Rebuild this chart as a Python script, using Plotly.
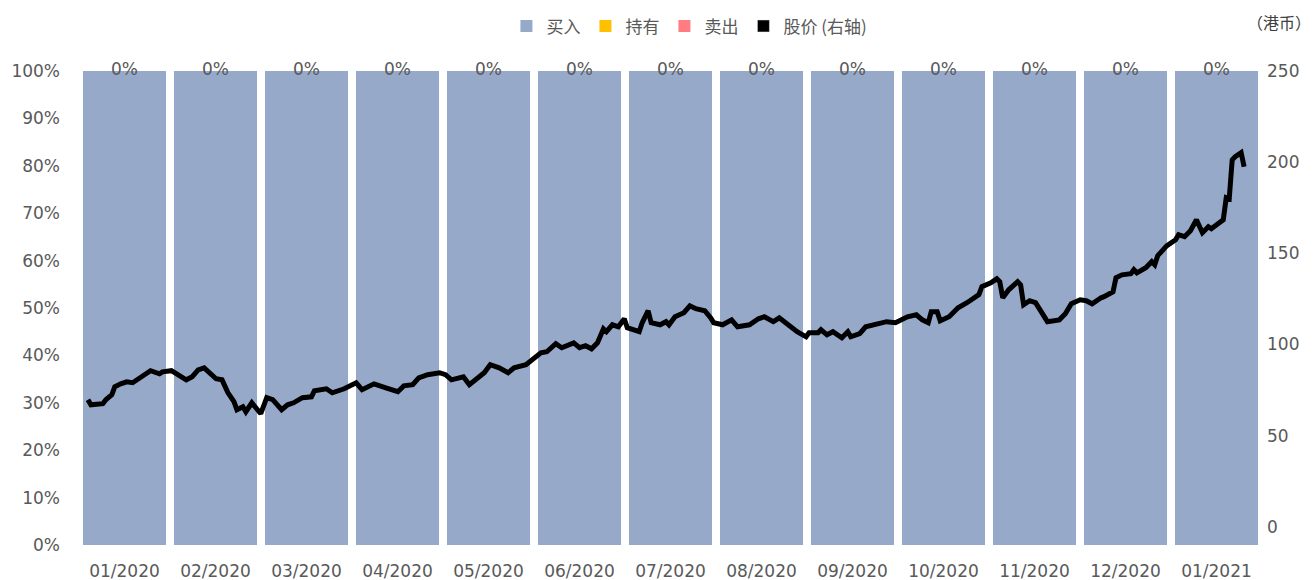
import plotly.graph_objects as go

# ---------------- data ----------------
months = ["01/2020", "02/2020", "03/2020", "04/2020", "05/2020", "06/2020", "07/2020",
          "08/2020", "09/2020", "10/2020", "11/2020", "12/2020", "01/2021"]
buy_pct = [1.0] * 13
hold_pct = [0.0] * 13
sell_pct = [0.0] * 13
hold_labels = ["0%"] * 13

price_dates = [
    "2020-01-04", "2020-01-05", "2020-01-09", "2020-01-10", "2020-01-12", "2020-01-13", "2020-01-15",
    "2020-01-17", "2020-01-19", "2020-01-22", "2020-01-25", "2020-01-28", "2020-01-29", "2020-02-01",
    "2020-02-03", "2020-02-06", "2020-02-08", "2020-02-10", "2020-02-12", "2020-02-14", "2020-02-16",
    "2020-02-18", "2020-02-20", "2020-02-22", "2020-02-23", "2020-02-25", "2020-02-26", "2020-02-28",
    "2020-03-02", "2020-03-04", "2020-03-06", "2020-03-09", "2020-03-11", "2020-03-13", "2020-03-16",
    "2020-03-19", "2020-03-20", "2020-03-24", "2020-03-26", "2020-03-30", "2020-04-03", "2020-04-05",
    "2020-04-09", "2020-04-13", "2020-04-17", "2020-04-19", "2020-04-22", "2020-04-24", "2020-04-27",
    "2020-05-01", "2020-05-03", "2020-05-05", "2020-05-08", "2020-05-09", "2020-05-11", "2020-05-14",
    "2020-05-16", "2020-05-18", "2020-05-21", "2020-05-24", "2020-05-26", "2020-05-30", "2020-06-02",
    "2020-06-04", "2020-06-06", "2020-06-09", "2020-06-11", "2020-06-15", "2020-06-17", "2020-06-19",
    "2020-06-21", "2020-06-23", "2020-06-25", "2020-06-26", "2020-06-28", "2020-06-30", "2020-07-02",
    "2020-07-03", "2020-07-07", "2020-07-08", "2020-07-10", "2020-07-11", "2020-07-14", "2020-07-16",
    "2020-07-17", "2020-07-19", "2020-07-22", "2020-07-24", "2020-07-26", "2020-07-29", "2020-07-31",
    "2020-08-01", "2020-08-04", "2020-08-07", "2020-08-09", "2020-08-13", "2020-08-16", "2020-08-18",
    "2020-08-21", "2020-08-23", "2020-08-26", "2020-08-28", "2020-08-29", "2020-09-01", "2020-09-02",
    "2020-09-05", "2020-09-06", "2020-09-08", "2020-09-10", "2020-09-13", "2020-09-15", "2020-09-16",
    "2020-09-19", "2020-09-21", "2020-09-25", "2020-09-28", "2020-10-01", "2020-10-05", "2020-10-08",
    "2020-10-10", "2020-10-12", "2020-10-13", "2020-10-15", "2020-10-16", "2020-10-19", "2020-10-22",
    "2020-10-25", "2020-10-29", "2020-10-30", "2020-11-02", "2020-11-04", "2020-11-05", "2020-11-06",
    "2020-11-08", "2020-11-11", "2020-11-12", "2020-11-13", "2020-11-15", "2020-11-17", "2020-11-19",
    "2020-11-21", "2020-11-25", "2020-11-27", "2020-11-29", "2020-12-02", "2020-12-04", "2020-12-06",
    "2020-12-09", "2020-12-10", "2020-12-13", "2020-12-14", "2020-12-16", "2020-12-19", "2020-12-20",
    "2020-12-21", "2020-12-24", "2020-12-26", "2020-12-27", "2020-12-28", "2020-12-31", "2021-01-03",
    "2021-01-04", "2021-01-06", "2021-01-08", "2021-01-10", "2021-01-12", "2021-01-14", "2021-01-15",
    "2021-01-19", "2021-01-20", "2021-01-21", "2021-01-22", "2021-01-23", "2021-01-25", "2021-01-26",
]
price_values = [
    69.7, 66.9, 67.5, 69.7, 72.4, 76.8, 78.4,
    79.5, 79.0, 82.3, 85.6, 83.9, 85.0, 85.6,
    83.9, 80.6, 82.3, 86.1, 87.2, 84.5, 81.2,
    80.6, 73.5, 68.6, 64.2, 65.8, 63.1, 68.0,
    62.0, 70.8, 69.7, 64.2, 66.9, 68.0, 70.8,
    71.3, 74.6, 75.7, 73.5, 75.7, 79.0, 75.2,
    78.4, 76.2, 74.1, 77.3, 77.9, 81.7, 83.4,
    84.5, 83.4, 80.6, 81.7, 82.3, 77.9, 82.3,
    84.5, 88.9, 87.2, 84.5, 87.2, 88.9, 92.7,
    95.4, 96.0, 100.4, 98.2, 100.9, 98.2, 99.3,
    97.6, 100.9, 108.6, 107.0, 110.8, 109.7, 114.1,
    109.2, 107.0, 111.9, 118.5, 111.9, 110.8, 112.5,
    110.8, 115.2, 117.4, 121.2, 119.6, 118.5, 114.6,
    111.9, 110.8, 113.5, 109.7, 110.8, 114.1, 115.2,
    112.5, 114.6, 110.8, 108.1, 107.0, 104.2, 106.4,
    106.4, 108.1, 105.3, 107.0, 103.7, 107.0, 104.2,
    105.9, 109.7, 111.4, 112.5, 111.9, 115.2, 116.3,
    113.5, 111.9, 117.9, 117.9, 113.0, 115.2, 120.1,
    122.9, 127.3, 131.7, 133.8, 136.0, 134.4, 125.6,
    130.0, 134.4, 132.7, 121.8, 124.0, 122.9, 117.9,
    112.5, 113.5, 116.8, 122.3, 124.5, 124.0, 122.3,
    125.6, 126.2, 128.9, 136.6, 138.2, 138.8, 141.0,
    139.3, 142.1, 145.4, 143.7, 148.7, 154.1, 157.4,
    160.2, 159.1, 162.4, 168.4, 161.3, 164.6, 163.5,
    168.4, 180.5, 179.9, 201.3, 203.0, 205.2, 197.5,
]

# ---------------- styles ----------------
BUY_C = "#97A9C9"
HOLD_C = "#FFC000"
SELL_C = "#FF7C80"
TXT_C = "#595959"
TICK_FONT = dict(family="DejaVu Sans", size=17, color=TXT_C)
CJK = "Noto Sans CJK SC"

fig = go.Figure()
fig.add_trace(go.Bar(x=months, y=buy_pct, name="买入", marker_color=BUY_C,
                     marker_line_width=0, hoverinfo="skip"))
fig.add_trace(go.Bar(x=months, y=hold_pct, name="持有", marker_color=HOLD_C,
                     marker_line_width=0, hoverinfo="skip"))
fig.add_trace(go.Bar(x=months, y=sell_pct, name="卖出", marker_color=SELL_C,
                     marker_line_width=0, hoverinfo="skip"))

label_y = [b + h + s for b, h, s in zip(buy_pct, hold_pct, sell_pct)]
fig.add_trace(go.Scatter(x=months, y=label_y, mode="text", text=hold_labels,
                         textposition="middle center", cliponaxis=False,
                         textfont=dict(family="DejaVu Sans", size=17, color=TXT_C),
                         showlegend=False, hoverinfo="skip"))

# legend entry for price (square swatch like the reference)
fig.add_trace(go.Bar(x=[None], y=[None], name="股价 (右轴)", marker_color="#000000",
                     legendgroup="price", hoverinfo="skip"))
fig.add_trace(go.Scatter(x=price_dates, y=price_values, mode="lines", xaxis="x2", yaxis="y2",
                         line=dict(color="#000000", width=5), legendgroup="price",
                         showlegend=False, name="股价"))

# page body has an 8px default margin: figure is sized to fit the window
fig.update_layout(
    width=1308, height=572,
    barmode="stack", bargap=0.088,
    paper_bgcolor="white", plot_bgcolor="white",
    margin=dict(l=71, r=54, t=63, b=35, autoexpand=False),
    showlegend=True,
    legend=dict(orientation="h", x=0.516, xanchor="center", y=1.132, yanchor="top",
                font=dict(family=CJK, size=17, color=TXT_C), itemwidth=30,
                traceorder="normal", bgcolor="rgba(0,0,0,0)"),
    xaxis=dict(type="category", range=[-0.5, len(months) - 0.5], showgrid=False,
               showline=False, zeroline=False, automargin=False, ticks="",
               tickfont=TICK_FONT, ticklabelstandoff=14),
    yaxis=dict(range=[0, 1], dtick=0.1, tickformat=".0%", showgrid=False, showline=False,
               automargin=False, zeroline=False, ticks="", tickfont=TICK_FONT,
               ticklabelstandoff=18),
    xaxis2=dict(type="date", overlaying="x", range=["2020-01-01", "2021-02-01"],
                automargin=False, visible=False),
    yaxis2=dict(overlaying="y", side="right", range=[-10, 250], automargin=False,
                tickvals=[0, 50, 100, 150, 200, 250], showgrid=False, showline=False,
                zeroline=False, ticks="", tickfont=TICK_FONT, ticklabelstandoff=4),
    annotations=[dict(text="（港币）", xref="paper", yref="paper", x=1.014, y=1.104,
                      xanchor="center", yanchor="middle", showarrow=False,
                      font=dict(family=CJK, size=16, color="#404040"))],
)

fig.write_html("out.html")
